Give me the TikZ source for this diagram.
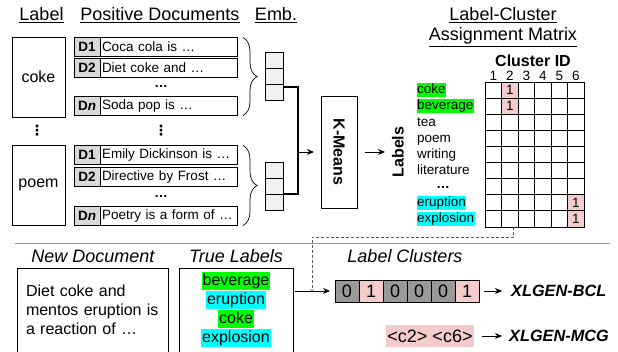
\documentclass[tikz,border=0pt]{standalone}
\usepackage{fontspec}
\setmainfont{Liberation Sans}
\newfontfamily\symfont{DejaVu Sans}
\usetikzlibrary{arrows.meta,decorations.pathreplacing,positioning}
\definecolor{hlgreen}{RGB}{0,255,0}
\definecolor{hlcyan}{RGB}{0,255,255}
\definecolor{onepink}{RGB}{244,204,204}
\definecolor{idgray}{RGB}{217,217,217}
\definecolor{embgray}{RGB}{240,240,240}
\definecolor{zerogray}{RGB}{153,153,153}
\tikzset{
  head/.style={font=\fontsize{18}{20}\selectfont},
  headit/.style={font=\fontsize{18}{20}\selectfont\itshape},
  body/.style={font=\fontsize{13.5}{16}\selectfont},
  bodybf/.style={font=\fontsize{13.5}{16}\selectfont\bfseries},
  mid/.style={font=\fontsize{16}{19}\selectfont},
  midbf/.style={font=\fontsize{16}{19}\selectfont\bfseries},
  box/.style={draw, line width=0.8pt, outer sep=0pt},
  idcell/.style={box, bodybf, fill=idgray, minimum width=26, minimum height=19,
    inner sep=0pt},
  doccell/.style={box, body, minimum height=19, text width=133pt,
    inner sep=2pt, align=left},
  embcell/.style={box, fill=embgray, minimum width=18, minimum height=16},
  mcell/.style={box, body, minimum width=16.5, minimum height=16.1, inner sep=0pt},
  hl/.style={body, inner sep=0.5pt, text height=10.5pt, text depth=3pt, anchor=west},
  truehl/.style={mid, inner sep=1pt, text height=12pt, text depth=4pt},
  vcell/.style={box, font=\fontsize{18}{20}\selectfont, minimum width=24,
    minimum height=22, inner sep=0pt},
  vdot/.style={font=\fontsize{14}{16}\selectfont\symfont\bfseries, inner sep=0pt},
  model/.style={anchor=west, inner sep=0pt,
    font=\fontsize{16.3}{19}\selectfont\bfseries\itshape},
  link/.style={line width=1.2pt},
  tip/.style={-{Stealth[length=7pt,width=6pt]}, line width=0.9pt},
  brace/.style={decorate, decoration={brace, amplitude=14pt}, line width=0.7pt},
}
\begin{document}
\begin{tikzpicture}[x=1pt, y=-1pt]
  \useasboundingbox (0,0) rectangle (618,351);

  % headings
  \node[head] (hlabel) at (41.5,15) {\underline{Label}};
  \node[head] (hdocs) at (160,15) {\underline{Positive Documents}};
  \node[head] (hemb) at (276,15) {\underline{Emb.}};
  \node[head] (hmat1) at (503,15) {\underline{Label-Cluster}};
  \node[head] (hmat2) at (503,37) {\underline{Assignment Matrix}};

  % labels and their documents
  \node[box, mid, minimum width=53, minimum height=80] (coke) at (38.5,77) {coke};
  \node[box, mid, minimum width=53, minimum height=80] (poem) at (38.5,185) {poem};
  \foreach \nm/\yy/\id/\txt in {ca/47/D1/Coca cola is …, cb/68/D2/Diet coke and …,
      cn/106/D\textit{n}/Soda pop is …, pa/155/D1/Emily Dickinson is …,
      pb/177/D2/Directive by Frost …, pn/216/D\textit{n}/Poetry is a form of …}
  {
    \node[idcell] (\nm-id) at (87,\yy) {\id};
    \node[doccell, right=0pt of \nm-id] (\nm) {\txt};
  }
  \node[bodybf] (cdots) at (161,86) {…};
  \node[bodybf] (pdots) at (161,196) {…};
  \node[vdot] (vdl) at (37,131) {⋮};
  \node[vdot] (vdd) at (161,131) {⋮};

  \draw[brace] ([xshift=6pt]ca.north east) -- ([xshift=6pt]cn.south east);
  \draw[brace] ([xshift=6pt]pa.north east) -- ([xshift=6pt]pn.south east);

  % embeddings
  \foreach \g/\y in {ce/60, pe/170}
    \foreach \k in {1,2,3}
      \node[embcell] (\g\k) at (274,{\y+16*(\k-1)}) {};

  \coordinate (join) at (298,152);
  \draw[link] ([yshift=-3pt]ce3.north east) -| (join);
  \draw[link] (pe3.north east) -| (join);

  \node[box, minimum width=36, minimum height=112] (km) at (339,152) {};
  \node[rotate=-90, midbf] (kmtext) at (km.center) {K-Means};
  \draw[tip] (join) -- ([xshift=-7pt]km.west);

  \node[rotate=90, midbf] (lbl) at (398,152) {Labels};
  \draw[tip] ([xshift=8pt]km.east) -- ([xshift=-13pt]lbl.center);

  % assignment matrix
  \node[midbf] (cid) at (533,61) {Cluster ID};
  \foreach \r in {1,...,9}
    \foreach \c in {1,...,6}
      \node[mcell] (m\r\c) at ({485+16.5*(\c-0.5)},{82+16.1*(\r-0.5)}) {};
  \foreach \r/\c in {1/2, 2/2, 8/6, 9/6}
    \node[mcell, fill=onepink] (one\r\c) at (m\r\c) {1};
  \foreach \c in {1,...,6}
    \node[body, inner sep=1pt, above=0pt of m1\c] (cn\c) {\c};

  \foreach \t/\r/\col in {coke/1/hlgreen, beverage/2/hlgreen, tea/3/white,
      poem/4/white, writing/5/white, literature/6/white,
      eruption/8/hlcyan, explosion/9/hlcyan}
    \node[hl, fill=\col] (l\r) at (416.5,{82+16.1*(\r-0.5)}) {\t};
  \node[bodybf, inner sep=0pt] (ldots) at (443,187) {…};

  % lower half
  \draw[zerogray, line width=1pt] (15,243) -- (610,243);

  \node[headit] (hnew) at (93,256) {New Document};
  \node[headit] (htrue) at (236,256) {True Labels};
  \node[headit] (hclus) at (405,256) {Label Clusters};

  \node[box, mid, minimum width=151, minimum height=84, text width=133pt,
    align=left, inner sep=0pt] (newdoc) at (92.5,310)
    {Diet coke and\\mentos eruption is\\a reaction of …};
  \node[box, minimum width=114, minimum height=84] (truth) at (236,310) {};
  \foreach \t/\k/\col in {beverage/1/hlgreen, eruption/2/hlcyan,
      coke/3/hlgreen, explosion/4/hlcyan}
    \node[truehl, fill=\col] (t\k) at (236,{281+19*(\k-1)}) {\t};

  \foreach \k/\v/\col in {1/0/zerogray, 2/1/onepink, 3/0/zerogray,
      4/0/zerogray, 5/0/zerogray, 6/1/onepink}
    \node[vcell, fill=\col] (v\k) at ({335+24*(\k-0.5)},291) {\v};

  \draw[tip] ([xshift=2pt]truth.east |- v1.west) -- ([xshift=-5pt]v1.west);
  \coordinate (bend) at (312,237);
  \draw[dashed, dash pattern=on 3pt off 2pt, gray!70!black, line width=0.6pt,
    -{Stealth[length=3pt,width=3pt]}]
    ([xshift=4pt]m92.south) |- (bend) -- ([yshift=-1.5pt]bend |- v1.west);

  \node[model] (bcl) at (511,291) {XLGEN-BCL};
  \draw[tip] ([xshift=5pt]v6.east) -- ([xshift=-9pt]bcl.west);

  \node[fill=onepink, head, minimum width=88, minimum height=22, inner sep=0pt]
    (tok) at (430,336) {<c2> <c6>};
  \node[model] (mcg) at (509,336) {XLGEN-MCG};
  \draw[tip] ([xshift=8pt]tok.east) -- ([xshift=-7pt]mcg.west);
\end{tikzpicture}
\end{document}
